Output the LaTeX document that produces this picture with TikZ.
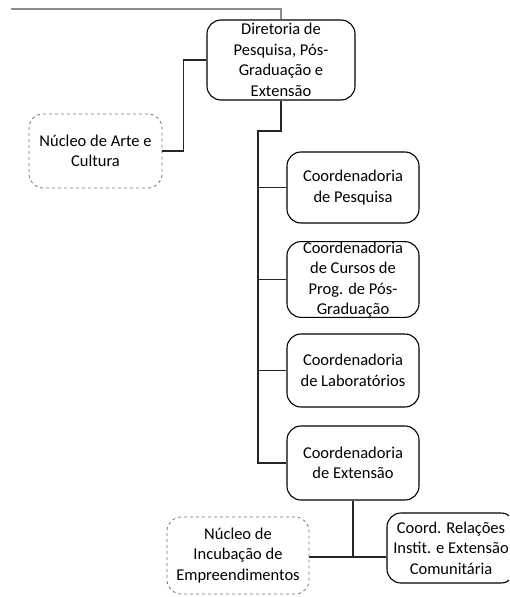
\documentclass[tikz,border=0pt]{standalone}
\usepackage{fontspec}
\setmainfont{Carlito}
\usetikzlibrary{positioning}

\begin{document}
\begin{tikzpicture}[x=1pt, y=-1pt,
  every node/.style={font=\fontsize{16.5}{20.5}\selectfont},
  unit/.style={draw, line width=1.1pt, rounded corners=14pt, align=center, inner sep=0pt},
  nucleo/.style={unit, dashed, draw=black!55, line width=0.8pt},
  link/.style={line width=1.3pt, draw=black!85}]
  \useasboundingbox (0,0) rectangle (509,597);
  \clip (0,0) rectangle (509,597);

  \node[unit, minimum width=148pt, minimum height=80pt] (dir) at (281,60)
    {Diretoria de\\Pesquisa, Pós-\\Graduação e\\Extensão};
  \node[nucleo, minimum width=133pt, minimum height=74pt] (arte) at (95.5,151)
    {Núcleo de Arte e\\Cultura};

  \node[unit, minimum width=132pt, minimum height=71pt] (pesq) at (353,187.5)
    {Coordenadoria\\de Pesquisa};
  \node[unit, minimum width=132pt, minimum height=73pt] (cursos) at (353,279.5)
    {Coordenadoria\\de Cursos de\\Prog. de Pós-\\Graduação};
  \node[unit, minimum width=132pt, minimum height=73pt] (lab) at (353,370.5)
    {Coordenadoria\\de Laboratórios};
  \node[unit, minimum width=132pt, minimum height=74pt] (ext) at (353,463)
    {Coordenadoria\\de Extensão};

  \node[nucleo, minimum width=142pt, minimum height=77pt] (incub) at (238,555.5)
    {Núcleo de\\Incubação de\\Empreendimentos};
  \node[unit, minimum width=128pt, minimum height=70pt] (rel) at (451,548)
    {Coord. Relações\\Instit. e Extensão\\Comunitária};

  \coordinate (top) at (11,9);
  \coordinate (spine) at (258,131);
  \coordinate (fork) at (353,557);

  \draw[line width=2pt, draw=black!45] (top) -| (dir.north);
  \draw[link] (arte.east) -- ++(21,0) |- (dir.west);

  \draw[link] (dir.south) |- (spine) |- (ext.west);
  \draw[link] (spine |- pesq.west) -- (pesq.west);
  \draw[link] (spine |- cursos.west) -- (cursos.west);
  \draw[link] (spine |- lab.west) -- (lab.west);

  \draw[link] (ext.south) -- (fork);
  \draw[link] (incub.east |- fork) -- (rel.west |- fork);
\end{tikzpicture}
\end{document}
